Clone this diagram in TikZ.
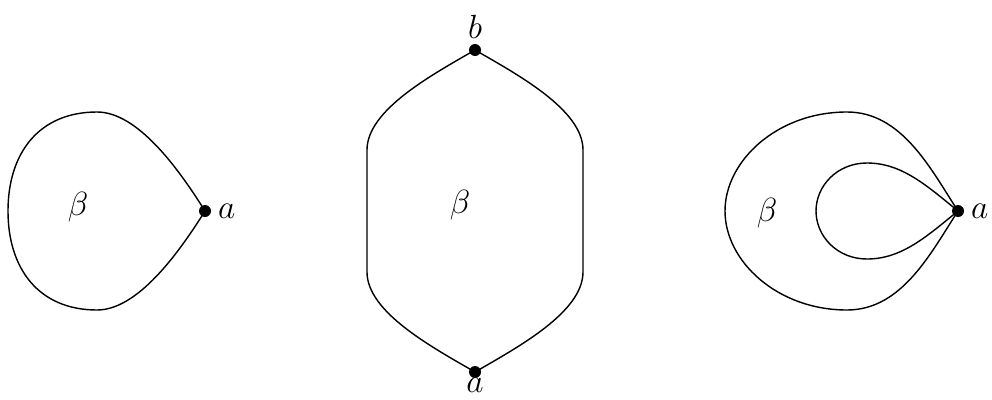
\documentclass[tikz,border=0pt]{standalone}
\usepackage{amsmath, amssymb}
\usetikzlibrary{positioning}

\begin{document}
\begin{tikzpicture}[font=\huge, line width=1pt,
    pt/.style={circle, fill=black, inner sep=0pt, minimum size=0.3cm},
    lbl/.style={inner sep=2pt, scale=1.15}]
    \useasboundingbox (0,0) rectangle (24.8,9.975);

    % left loop
    \node[pt] (a1) at (5.125,4.7) {};
    \node[lbl, right=0.06 of a1] (la1) {$a$};
    \node[lbl] (beta1) at (1.95,4.8) {$\beta$};
    \draw (a1.center) .. controls +(122:1.3) and +(1,0) .. (2.425,7.175)
        .. controls +(-1.45,0) and +(0,1.45) .. (0.2,4.7)
        .. controls +(0,-1.45) and +(-1.45,0) .. (2.425,2.225)
        .. controls +(1,0) and +(-122:1.3) .. (a1.center);

    % middle bigon
    \node[pt] (b2) at (11.875,8.725) {};
    \node[pt] (a2) at (11.875,0.675) {};
    \node[lbl, above=0.02 of b2] (lb2) {$b$};
    \node[lbl, below=-0.12 of a2] (la2) {$a$};
    \node[lbl] (beta2) at (11.5,4.85) {$\beta$};
    \draw (b2.center) .. controls +(210:1.25) and +(0,1) .. (9.175,6.225) -- (9.175,3.175)
        .. controls +(0,-1) and +(150:1.25) .. (a2.center);
    \draw (b2.center) .. controls +(-30:1.25) and +(0,1) .. (14.575,6.225) -- (14.575,3.175)
        .. controls +(0,-1) and +(30:1.25) .. (a2.center);

    % right: two loops at a
    \node[pt] (a3) at (23.95,4.7) {};
    \node[lbl, right=0.06 of a3] (la3) {$a$};
    \node[lbl] (beta3) at (19.175,4.65) {$\beta$};
    \draw (a3.center) .. controls +(123:1.25) and +(1.375,0) .. (21.175,7.175)
        .. controls +(-1.75,0) and +(0,1.25) .. (18.125,4.7)
        .. controls +(0,-1.25) and +(-1.75,0) .. (21.175,2.225)
        .. controls +(1.375,0) and +(-123:1.25) .. (a3.center);
    \draw (a3.center) .. controls +(141:1) and +(0.875,0) .. (21.675,5.9)
        .. controls +(-0.75,0) and +(0,0.625) .. (20.4,4.7)
        .. controls +(0,-0.625) and +(-0.75,0) .. (21.675,3.5)
        .. controls +(0.875,0) and +(-141:1) .. (a3.center);
\end{tikzpicture}
\end{document}
